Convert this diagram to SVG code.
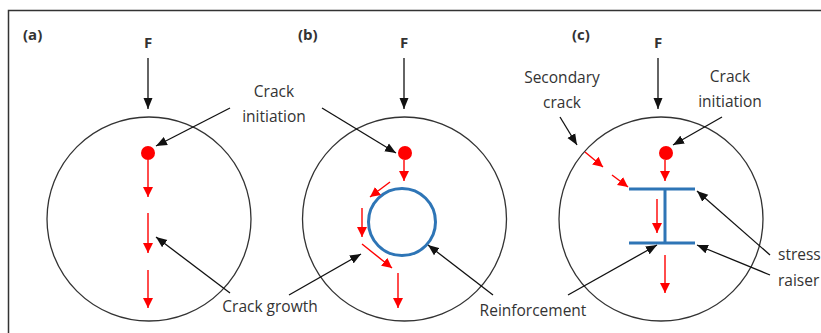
<svg xmlns="http://www.w3.org/2000/svg" width="821" height="333" viewBox="0 0 821 333">
<defs>
<style>
.t{font-family:"Open Sans","Noto Sans","Liberation Sans",sans-serif;font-size:15.5px;fill:#333}
.b{font-family:"Open Sans","Noto Sans","Liberation Sans",sans-serif;font-size:15px;font-weight:bold;fill:#333}
.ring{fill:none;stroke:#333;stroke-width:1.3}
.blk{fill:none;stroke:#111;stroke-width:1.3;marker-end:url(#ah)}
.red{fill:none;stroke:#ff0000;stroke-width:1.4;marker-end:url(#rh)}
.blue{fill:none;stroke:#2e75b6;stroke-width:3}
.dot{fill:#ff0000}
</style>
<marker id="ah" markerUnits="userSpaceOnUse" markerWidth="12" markerHeight="10" refX="11" refY="5" orient="auto"><path d="M0,0.5 L11,5 L0,9.5 z" fill="#111"/></marker>
<marker id="rh" markerUnits="userSpaceOnUse" markerWidth="11" markerHeight="11" refX="10" refY="5.5" orient="auto"><path d="M0,0.5 L10,5.5 L0,10.5 z" fill="#ff0000"/></marker>
</defs>
<rect width="821" height="333" fill="#fff"/>
<path d="M8.5,340 V10.5 H830" fill="none" stroke="#333" stroke-width="1.5"/>

<g id="panel-a">
<text class="b" x="23" y="40">(a)</text>
<text class="b" x="148" y="48" text-anchor="middle">F</text>
<circle class="ring" cx="149" cy="219" r="102"/>
<circle class="dot" cx="148" cy="153" r="7"/>
</g>

<g id="panel-b">
<text class="b" x="298" y="40">(b)</text>
<text class="b" x="404" y="48" text-anchor="middle">F</text>
<circle class="ring" cx="404.5" cy="219" r="102"/>
<circle class="dot" cx="405" cy="153" r="7"/>
<circle class="blue" cx="402" cy="222" r="33.5"/>
</g>

<g id="panel-c">
<text class="b" x="572" y="40">(c)</text>
<text class="b" x="658" y="48" text-anchor="middle">F</text>
<circle class="ring" cx="661" cy="219" r="102"/>
<circle class="dot" cx="666" cy="153" r="7"/>
<path class="blue" d="M629,189 H695 M629,243 H695 M665,189 V243"/>
</g>

<g id="label-crack-initiation-ab">
<text class="t" x="274" y="97" text-anchor="middle">Crack</text>
<text class="t" x="274" y="122" text-anchor="middle">initiation</text>
</g>
<g id="label-crack-growth"><text class="t" x="270" y="312" text-anchor="middle">Crack growth</text></g>
<g id="label-reinforcement"><text class="t" x="533" y="316" text-anchor="middle">Reinforcement</text></g>
<g id="label-secondary-crack">
<text class="t" x="562" y="83" text-anchor="middle">Secondary</text>
<text class="t" x="562" y="108" text-anchor="middle">crack</text>
</g>
<g id="label-crack-initiation-c">
<text class="t" x="730" y="82" text-anchor="middle">Crack</text>
<text class="t" x="730" y="107" text-anchor="middle">initiation</text>
</g>
<g id="label-stress-raiser">
<text class="t" x="778" y="260">stress</text>
<text class="t" x="778" y="286">raiser</text>
</g>

<g id="connectors">
<line class="blk" x1="148" y1="58" x2="148" y2="109"/>
<line class="blk" x1="404" y1="58" x2="404" y2="109"/>
<line class="blk" x1="658" y1="58" x2="658" y2="109"/>
<line class="blk" x1="230" y1="108" x2="156" y2="146"/>
<line class="blk" x1="322" y1="108" x2="396" y2="153"/>
<line class="blk" x1="230" y1="293" x2="156" y2="237"/>
<line class="blk" x1="289" y1="295" x2="361" y2="254"/>
<line class="blk" x1="493" y1="295" x2="428" y2="245"/>
<line class="blk" x1="568" y1="295" x2="657" y2="245"/>
<line class="blk" x1="560" y1="117" x2="577" y2="145"/>
<line class="blk" x1="722" y1="117" x2="673" y2="145"/>
<line class="blk" x1="770" y1="255" x2="697" y2="191"/>
<line class="blk" x1="770" y1="275" x2="697" y2="245"/>

<line class="red" x1="148" y1="160" x2="148" y2="197"/>
<line class="red" x1="148" y1="213" x2="148" y2="253"/>
<line class="red" x1="148" y1="270" x2="148" y2="308"/>

<line class="red" x1="404" y1="160" x2="404" y2="181"/>
<line class="red" x1="390" y1="182" x2="370" y2="197"/>
<line class="red" x1="362" y1="208" x2="362" y2="237"/>
<line class="red" x1="362" y1="244" x2="392" y2="268"/>
<line class="red" x1="398" y1="273" x2="398" y2="308"/>

<line class="red" x1="665" y1="160" x2="665" y2="181"/>
<line class="red" x1="657" y1="199" x2="657" y2="233"/>
<line class="red" x1="665" y1="255" x2="665" y2="293"/>
<line class="red" x1="585" y1="152" x2="603" y2="167"/>
<line class="red" x1="612" y1="175" x2="628" y2="187"/>
</g>
</svg>
